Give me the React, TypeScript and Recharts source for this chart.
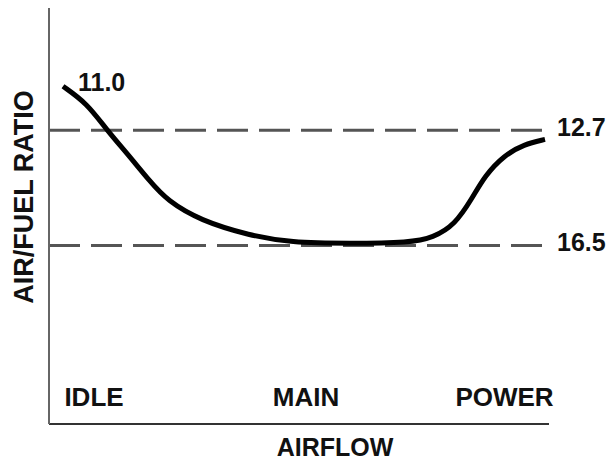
import { LineChart, Line, XAxis, YAxis, ReferenceLine, ReferenceDot, Label } from "recharts";

// airflow position (0-100) and air/fuel ratio
const airflow = [2.8, 7.6, 11.6, 15.6, 20.2, 23.6, 30.2, 40.2, 48.2, 60.2, 72.2, 76.8, 81.2, 84.6, 87.2, 91, 95, 99.2];
const ratio = [11.25, 11.81, 12.7, 13.46, 14.39, 15.01, 15.67, 16.17, 16.4, 16.43, 16.4, 16.24, 15.81, 14.95, 14.19, 13.53, 13.16, 13.0];

const zoneTicks = [9, 51.4, 91.1];
const zoneNames = ["IDLE", "MAIN", "POWER"];
const refValues = [12.7, 16.5];
const startLabel = "11.0";

const data = airflow.map((x, i) => ({ x, afr: ratio[i] }));

const FONT = "'Liberation Sans', Arial, sans-serif";

const ZoneTick = ({ x, y, index }: any) => (
  <text x={x} y={y - 27} textAnchor="middle" dominantBaseline="central" fontFamily={FONT} fontWeight="bold" fontSize={26} fill="#111">
    {zoneNames[index]}
  </text>
);

export default function App() {
  return (
    <div style={{ position: "absolute", top: 0, left: 0, width: 615, height: 461, background: "#fff" }}>
      <LineChart width={615} height={461} data={data} margin={{ top: 8, right: 66, left: 0, bottom: 0 }}>
        <XAxis
          dataKey="x"
          type="number"
          domain={[0, 100]}
          ticks={zoneTicks}
          tick={<ZoneTick />}
          tickLine={false}
          tickSize={0}
          tickMargin={0}
          height={37}
          axisLine={{ stroke: "#333", strokeWidth: 2 }}
        >
          <Label
            content={({ viewBox }: any) => (
              <text x={335} y={viewBox.y + 32} textAnchor="middle" fontFamily={FONT} fontWeight="bold" fontSize={25} fill="#111">
                AIRFLOW
              </text>
            )}
          />
        </XAxis>
        <YAxis
          type="number"
          domain={[8.67, 22.38]}
          reversed
          allowDataOverflow
          tick={false}
          tickLine={false}
          width={49}
          axisLine={{ stroke: "#666", strokeWidth: 2 }}
        >
          <Label
            content={({ viewBox }: any) => (
              <text
                x={viewBox.x + 24}
                y={viewBox.y + 189}
                transform={`rotate(-90 ${viewBox.x + 24} ${viewBox.y + 189})`}
                textAnchor="middle"
                dominantBaseline="central"
                fontFamily={FONT}
                fontWeight="bold"
                fontSize={27}
                fill="#111"
              >
                AIR/FUEL RATIO
              </text>
            )}
          />
        </YAxis>
        {refValues.map((v) => (
          <ReferenceLine key={v} y={v} stroke="#555" strokeWidth={3} strokeDasharray="31 11">
            <Label value={v.toFixed(1)} position="right" offset={8} dy={-3} fontFamily={FONT} fontWeight="bold" fontSize={25} fill="#111" />
          </ReferenceLine>
        ))}
        <Line type="basis" dataKey="afr" stroke="#000" strokeWidth={5} dot={false} isAnimationActive={false} />
        <ReferenceDot x={airflow[0]} y={ratio[0]} r={0} stroke="none" fill="none">
          <Label
            content={({ viewBox }: any) => (
              <text x={viewBox.x + 15} y={viewBox.y - 4} dominantBaseline="central" fontFamily={FONT} fontWeight="bold" fontSize={25} fill="#111">
                {startLabel}
              </text>
            )}
          />
        </ReferenceDot>
      </LineChart>
    </div>
  );
}
